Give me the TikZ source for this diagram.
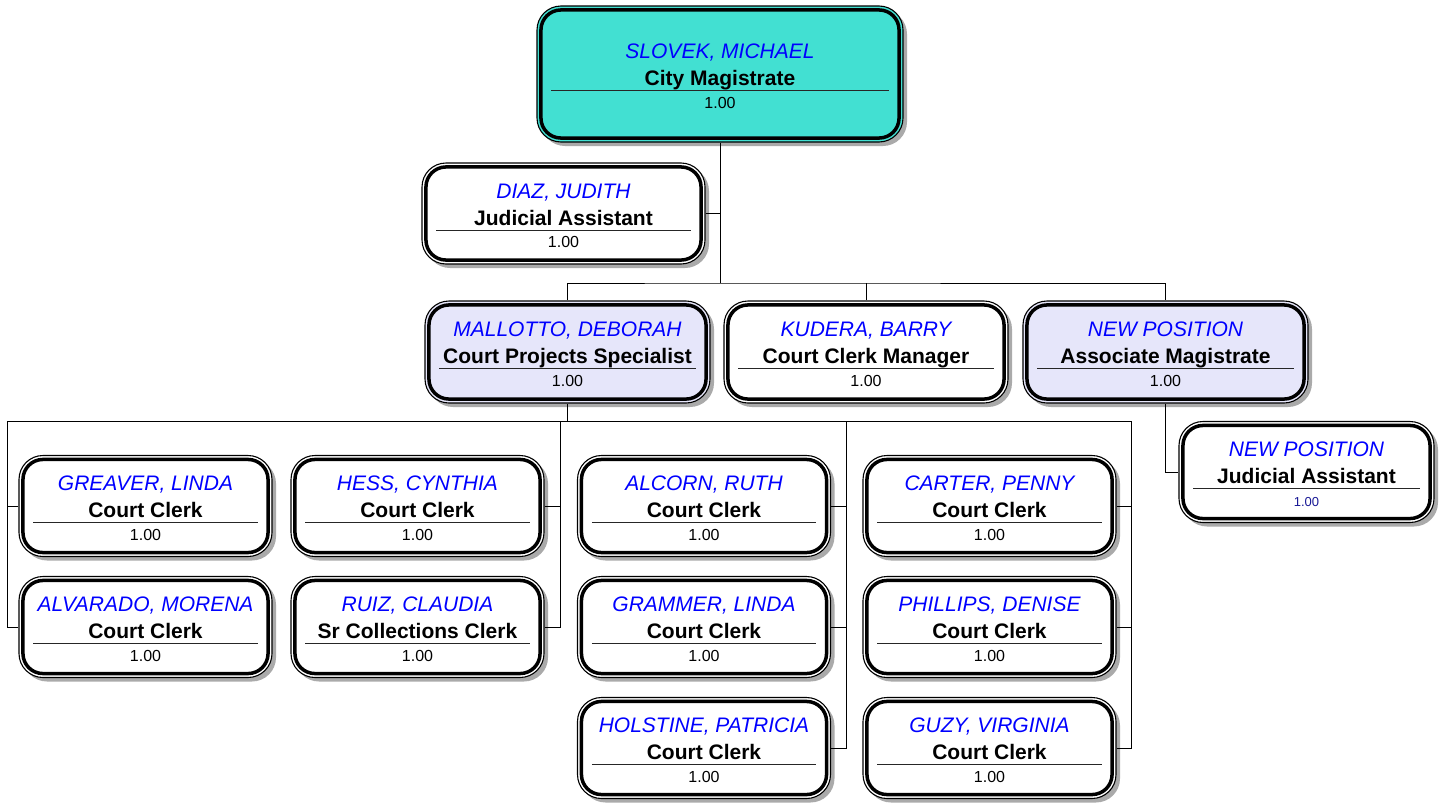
\documentclass[tikz,border=0pt]{standalone}
\usepackage{fontspec}
\setmainfont{Liberation Sans}
\usetikzlibrary{calc,shadows}

\definecolor{chiefteal}{RGB}{66,224,210}
\definecolor{leadlav}{RGB}{230,230,250}
\definecolor{nameblue}{RGB}{0,0,255}
\definecolor{fteblue}{RGB}{25,25,150}
\definecolor{shadowgray}{RGB}{170,170,170}

\tikzset{
  unitbox/.style={draw=black, line width=1.1pt, rounded corners=24pt, inner sep=0pt,
    drop shadow={shadow xshift=4pt, shadow yshift=-4pt, fill=shadowgray, opacity=1}},
  innerline/.style={draw=black, line width=3.5pt, rounded corners=20pt},
  sepline/.style={draw=black!85, line width=0.9pt},
  nametext/.style={anchor=base, inner sep=0pt, text=nameblue,
    font=\fontsize{21}{24}\selectfont\itshape},
  titletext/.style={anchor=base, inner sep=0pt,
    font=\fontsize{21}{24}\selectfont\bfseries},
  ftetext/.style={anchor=base, inner sep=0pt, font=\fontsize{16}{19}\selectfont},
  link/.style={draw=black, line width=1pt},
}

% id, x, y, width, height, fill, name, title, fte
\newcommand{\orgunit}[9]{%
  \node[unitbox, minimum width=#4pt, minimum height=#5pt, fill=#6] (#1) at (#2,#3) {};
  \draw[innerline] ($(#1.north west)+(4.5,4.5)$) rectangle ($(#1.south east)+(-4.5,-4.5)$);
  \node[nametext] (#1-name) at ($(#1.center)+(0,-15.5)$) {#7};
  \node[titletext] (#1-title) at ($(#1.center)+(0,11.5)$) {#8};
  \draw[sepline] ($(#1.west)+(15,16.5)$) -- ($(#1.east)+(-15,16.5)$);
  \node[ftetext] (#1-fte) at ($(#1.center)+(0,34)$) {#9};
}

\begin{document}
\begin{tikzpicture}[x=1pt, y=-1pt]
  \useasboundingbox (0,0) rectangle (1445,806);

  % junction points of the reporting lines
  \coordinate (busTop) at (720,283);
  \coordinate (busA) at (7,421);
  \coordinate (busB) at (560,421);
  \coordinate (busC) at (846,421);
  \coordinate (busD) at (1131,421);

  % top level
  \orgunit{slovek}{720}{74}{366}{136}{chiefteal}{SLOVEK, MICHAEL}{City Magistrate}{1.00}
  \orgunit{diaz}{563.5}{213.5}{283}{101}{white}{DIAZ, JUDITH}{Judicial Assistant}{1.00}

  % second level
  \orgunit{mallotto}{567.5}{352}{285}{102}{leadlav}{MALLOTTO, DEBORAH}{Court Projects Specialist}{1.00}
  \orgunit{kudera}{866}{352}{284}{102}{white}{KUDERA, BARRY}{Court Clerk Manager}{1.00}
  \orgunit{assoc}{1165.5}{352}{285}{102}{leadlav}{NEW POSITION}{Associate Magistrate}{1.00}
  \orgunit{newja}{1306.5}{472}{255}{101}{white}{NEW POSITION}{Judicial Assistant}{\fontsize{13}{15}\selectfont\color{fteblue}1.00}

  % clerks
  \orgunit{greaver}{145.5}{506}{253}{101}{white}{GREAVER, LINDA}{Court Clerk}{1.00}
  \orgunit{alvarado}{145.5}{627}{253}{101}{white}{ALVARADO, MORENA}{Court Clerk}{1.00}
  \orgunit{hess}{417.5}{506}{253}{101}{white}{HESS, CYNTHIA}{Court Clerk}{1.00}
  \orgunit{ruiz}{417.5}{627}{253}{101}{white}{RUIZ, CLAUDIA}{Sr Collections Clerk}{1.00}
  \orgunit{alcorn}{704}{506}{253}{101}{white}{ALCORN, RUTH}{Court Clerk}{1.00}
  \orgunit{grammer}{704}{627}{253}{101}{white}{GRAMMER, LINDA}{Court Clerk}{1.00}
  \orgunit{holstine}{704}{748}{253}{101}{white}{HOLSTINE, PATRICIA}{Court Clerk}{1.00}
  \orgunit{carter}{989.5}{506}{253}{101}{white}{CARTER, PENNY}{Court Clerk}{1.00}
  \orgunit{phillips}{989.5}{627}{253}{101}{white}{PHILLIPS, DENISE}{Court Clerk}{1.00}
  \orgunit{guzy}{989.5}{748}{253}{101}{white}{GUZY, VIRGINIA}{Court Clerk}{1.00}

  % reporting lines
  \draw[link] (slovek.south) -- (busTop);
  \draw[link] (diaz.east) -- (diaz.east -| busTop);
  \draw[link] (mallotto.north) |- (busTop) -| (assoc.north);
  \draw[link] (kudera.north) -- (kudera.north |- busTop);
  \draw[link] (mallotto.south) -- (mallotto.south |- busA);
  \draw[link] (busA) -- (busD);
  \draw[link] (greaver.west) -| (busA);
  \draw[link] (alvarado.west) -| (busA);
  \draw[link] (hess.east) -| (busB);
  \draw[link] (ruiz.east) -| (busB);
  \draw[link] (alcorn.east) -| (busC);
  \draw[link] (grammer.east) -| (busC);
  \draw[link] (holstine.east) -| (busC);
  \draw[link] (carter.east) -| (busD);
  \draw[link] (phillips.east) -| (busD);
  \draw[link] (guzy.east) -| (busD);
  \draw[link] (assoc.south) |- (newja.west);
\end{tikzpicture}
\end{document}
